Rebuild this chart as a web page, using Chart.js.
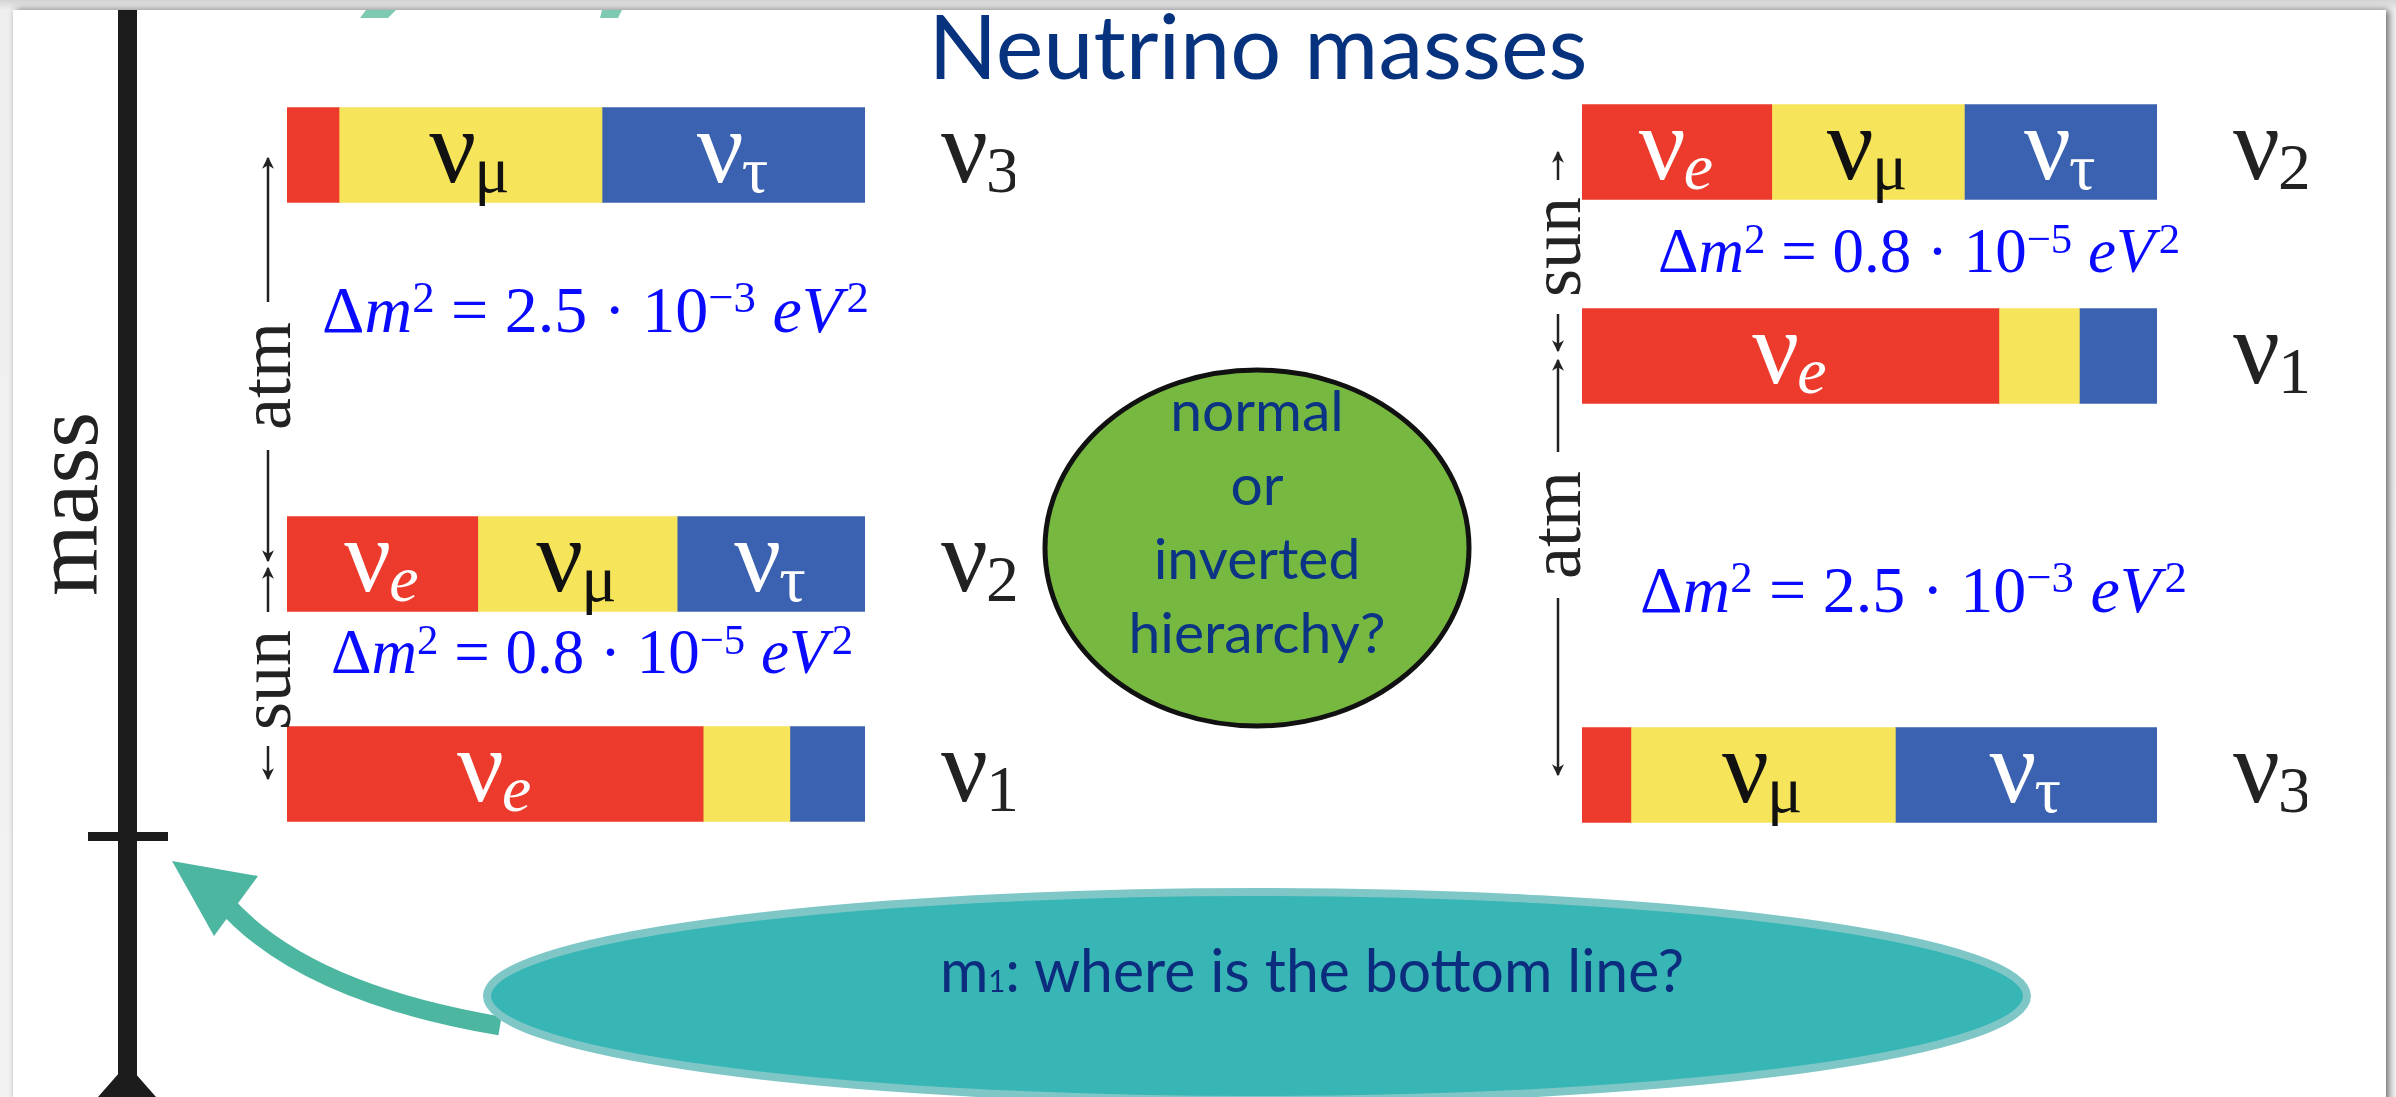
<!DOCTYPE html>
<html>
<head>
<meta charset="utf-8">
<title>Neutrino masses</title>
<script src="https://cdn.jsdelivr.net/npm/chart.js@4.4.1/dist/chart.umd.min.js"></script>
<style>
    html, body { margin: 0; padding: 0; }
    body {
        width: 2396px; height: 1097px; overflow: hidden; position: relative;
        background: linear-gradient(#d4d4d4, #efefef 10px, #f2f2f2);
        font-family: "Lato", "Open Sans", sans-serif;
    }
    #slide {
        position: absolute; left: 13px; top: 10px; width: 2373px; height: 1100px;
        background: #fff; box-shadow: 3px 0 7px rgba(0, 0, 0, 0.55);
    }
    canvas, svg { position: absolute; top: 0; }
    svg { left: 0; }
    .abs { position: absolute; white-space: nowrap; line-height: 1; }
    #title { color: #06327e; font-size: 90px; left: 1258px; top: -1px; transform: translateX(-50%); }
    .serif { font-family: "Liberation Serif", "DejaVu Serif", serif; }
    .rot { transform: translate(-50%, -50%) rotate(-90deg); color: #222; }
    .formula { font-family: "Liberation Serif", "DejaVu Serif", serif; color: #0a0aff; }
    .formula i { font-style: italic; }
    .formula .up { position: relative; top: -0.45em; font-size: 0.68em; }
    .formula .after-v { margin-left: 0.1em; }
    #bubble { color: #0b3484; font-size: 57px; text-align: center; line-height: 74px; left: 1257px; top: 372px; transform: translateX(-50%); }
    #question { color: #0c2c7e; font-size: 60px; left: 1312px; top: 939px; transform: translateX(-50%) scaleX(0.98); }
    #question .small { font-size: 0.5em; }
</style>
</head>
<body>
<div id="slide"></div>

<svg width="2396" height="1097">
    <defs>
        <marker id="head" viewBox="0 0 10 10" refX="9" refY="5" markerWidth="13" markerHeight="12"
                markerUnits="userSpaceOnUse" orient="auto">
            <path d="M0,0 L10,5 L0,10 L3,5 z" fill="#222"/>
        </marker>
    </defs>
    <!-- bits of something cut off at the top -->
    <polygon points="366,10 396,10 388,18 360,18" fill="#5dbb9f" opacity="0.8"/>
    <polygon points="602,10 622,10 618,18 600,18" fill="#5dbb9f" opacity="0.8"/>

    <!-- mass axis -->
    <rect x="118" y="10" width="19" height="1087" fill="#1c1c1c"/>
    <rect x="88" y="832" width="80" height="9" fill="#1c1c1c"/>
    <polygon points="127,1064 98,1097 156,1097" fill="#1c1c1c"/>

    <!-- atm / sun arrows for both hierarchies -->
    <g stroke="#222" stroke-width="2.5" fill="none" marker-end="url(#head)">
        <line x1="268" y1="302" x2="268" y2="158"/>
        <line x1="268" y1="450" x2="268" y2="561"/>
        <line x1="268" y1="612" x2="268" y2="568"/>
        <line x1="268" y1="746" x2="268" y2="779"/>
        <line x1="1558" y1="180" x2="1558" y2="152"/>
        <line x1="1558" y1="314" x2="1558" y2="351"/>
        <line x1="1558" y1="452" x2="1558" y2="360"/>
        <line x1="1558" y1="598" x2="1558" y2="775"/>
    </g>

    <!-- green circle -->
    <ellipse cx="1257" cy="548" rx="212" ry="178" fill="#77b840" stroke="#111" stroke-width="5"/>

    <!-- teal arrow and ellipse -->
    <path d="M 500 1026 Q 300 992 222 900" stroke="#4db6a0" stroke-width="19" fill="none"/>
    <polygon points="172,861 258,876 214,936" fill="#4db6a0"/>
    <ellipse cx="1257" cy="996" rx="770" ry="104" fill="#38b5b5" stroke="#7fc7c7" stroke-width="8"/>
</svg>

<canvas id="normalChart" width="728" height="1097" style="left:287px"></canvas>
<canvas id="invertedChart" width="725" height="1097" style="left:1582px"></canvas>

<div id="title" class="abs">Neutrino masses</div>

<div class="abs serif rot" style="left:66px; top:504px; font-size:92px;">mass</div>
<div class="abs serif rot" style="left:266px; top:376px; font-size:72px;">atm</div>
<div class="abs serif rot" style="left:266px; top:680px; font-size:72px;">sun</div>
<div class="abs serif rot" style="left:1556px; top:247px; font-size:72px;">sun</div>
<div class="abs serif rot" style="left:1556px; top:525px; font-size:72px;">atm</div>

<div class="abs formula" style="left:322px; top:277px; font-size:66px;">Δ<i>m</i><span class="up">2</span> = 2.5 · 10<span class="up">−3</span> <i>eV</i><span class="up after-v">2</span></div>
<div class="abs formula" style="left:331px; top:621px; font-size:63px;">Δ<i>m</i><span class="up">2</span> = 0.8 · 10<span class="up">−5</span> <i>eV</i><span class="up after-v">2</span></div>
<div class="abs formula" style="left:1658px; top:220px; font-size:63px;">Δ<i>m</i><span class="up">2</span> = 0.8 · 10<span class="up">−5</span> <i>eV</i><span class="up after-v">2</span></div>
<div class="abs formula" style="left:1640px; top:557px; font-size:66px;">Δ<i>m</i><span class="up">2</span> = 2.5 · 10<span class="up">−3</span> <i>eV</i><span class="up after-v">2</span></div>

<div id="bubble" class="abs">normal<br>or<br>inverted<br>hierarchy?</div>
<div id="question" class="abs">m<span class="small">1</span>: where is the bottom line?</div>

<script>
// ===================== DATA ===================== //
// flavour content (ν_e, ν_μ, ν_τ fractions) of each mass state
const normalStates = ["3", "2", "1"];
const normalMass = [9.42, 5.33, 3.23];      // vertical level, arbitrary mass units
const normalE = [0.09, 0.33, 0.72];
const normalMu = [0.455, 0.345, 0.15];
const normalTau = [0.455, 0.325, 0.13];

const invertedStates = ["2", "1", "3"];
const invertedMass = [9.45, 7.41, 3.22];
const invertedE = [0.33, 0.725, 0.085];
const invertedMu = [0.335, 0.14, 0.46];
const invertedTau = [0.335, 0.135, 0.455];

const flavours = ["e", "μ", "τ"];
const flavourColors = ["#ec3b2c", "#f6e45a", "#3b62b0"];
const flavourInk = ["#ffffff", "#111111", "#ffffff"];

const MASS_MAX = 10.97;


// ===================== DRAW A ν WITH SUBSCRIPT ===================== //
function drawNu(ctx, x, y, sub, italicSub, color, centered) {
    const big = "104px 'Liberation Serif', 'DejaVu Serif', serif";
    const small = (italicSub ? "italic " : "") + "66px 'Liberation Serif', 'DejaVu Serif', serif";

    ctx.save();
    ctx.fillStyle = color;
    ctx.textAlign = "left";
    ctx.textBaseline = "alphabetic";

    ctx.font = big;
    const w1 = ctx.measureText("ν").width;
    ctx.font = small;
    const w2 = ctx.measureText(sub).width;

    let left = centered ? x - (w1 + w2) / 2 : x;
    ctx.font = big;
    ctx.fillText("ν", left, y + 27);
    ctx.font = small;
    ctx.fillText(sub, left + w1 - 2, y + 37);
    ctx.restore();
}


// ===================== LABEL PLUGIN ===================== //
function labelPlugin(states, mass) {
    return {
        id: "nuLabels",
        afterDatasetsDraw(chart) {
            const ctx = chart.ctx;

            // flavour names inside the wide segments
            chart.data.datasets.forEach((ds, i) => {
                const meta = chart.getDatasetMeta(i);
                meta.data.forEach((bar, j) => {
                    if (ds.data[j].x < 0.2) return;
                    drawNu(ctx, (bar.x + bar.base) / 2, bar.y, flavours[i], i === 0, flavourInk[i], true);
                });
            });

            // mass state names on the right
            const yScale = chart.scales.y;
            states.forEach((s, j) => {
                drawNu(ctx, chart.chartArea.right + 76, yScale.getPixelForValue(mass[j]), s, false, "#222", false);
            });
        }
    };
}


// ===================== BUILD A HIERARCHY CHART ===================== //
function makeChart(id, states, mass, fracE, fracMu, fracTau) {
    const points = (arr) => arr.map((v, i) => ({ x: v, y: mass[i] }));
    const series = [fracE, fracMu, fracTau];

    return new Chart(document.getElementById(id), {
        type: "bar",
        data: {
            datasets: series.map((arr, i) => ({
                label: "ν" + flavours[i],
                data: points(arr),
                backgroundColor: flavourColors[i],
                borderWidth: 0,
                barThickness: 95
            }))
        },
        options: {
            indexAxis: "y",
            responsive: false,
            animation: false,
            devicePixelRatio: 1,
            layout: { padding: { left: 0, right: 150, top: 0, bottom: 0 } },
            plugins: {
                legend: { display: false },
                tooltip: { enabled: false }
            },
            scales: {
                x: { type: "linear", min: 0, max: 1, stacked: true, display: false },
                y: { type: "linear", min: 0, max: MASS_MAX, stacked: true, offset: false, display: false }
            }
        },
        plugins: [labelPlugin(states, mass)]
    });
}

makeChart("normalChart", normalStates, normalMass, normalE, normalMu, normalTau);
makeChart("invertedChart", invertedStates, invertedMass, invertedE, invertedMu, invertedTau);
</script>
</body>
</html>
